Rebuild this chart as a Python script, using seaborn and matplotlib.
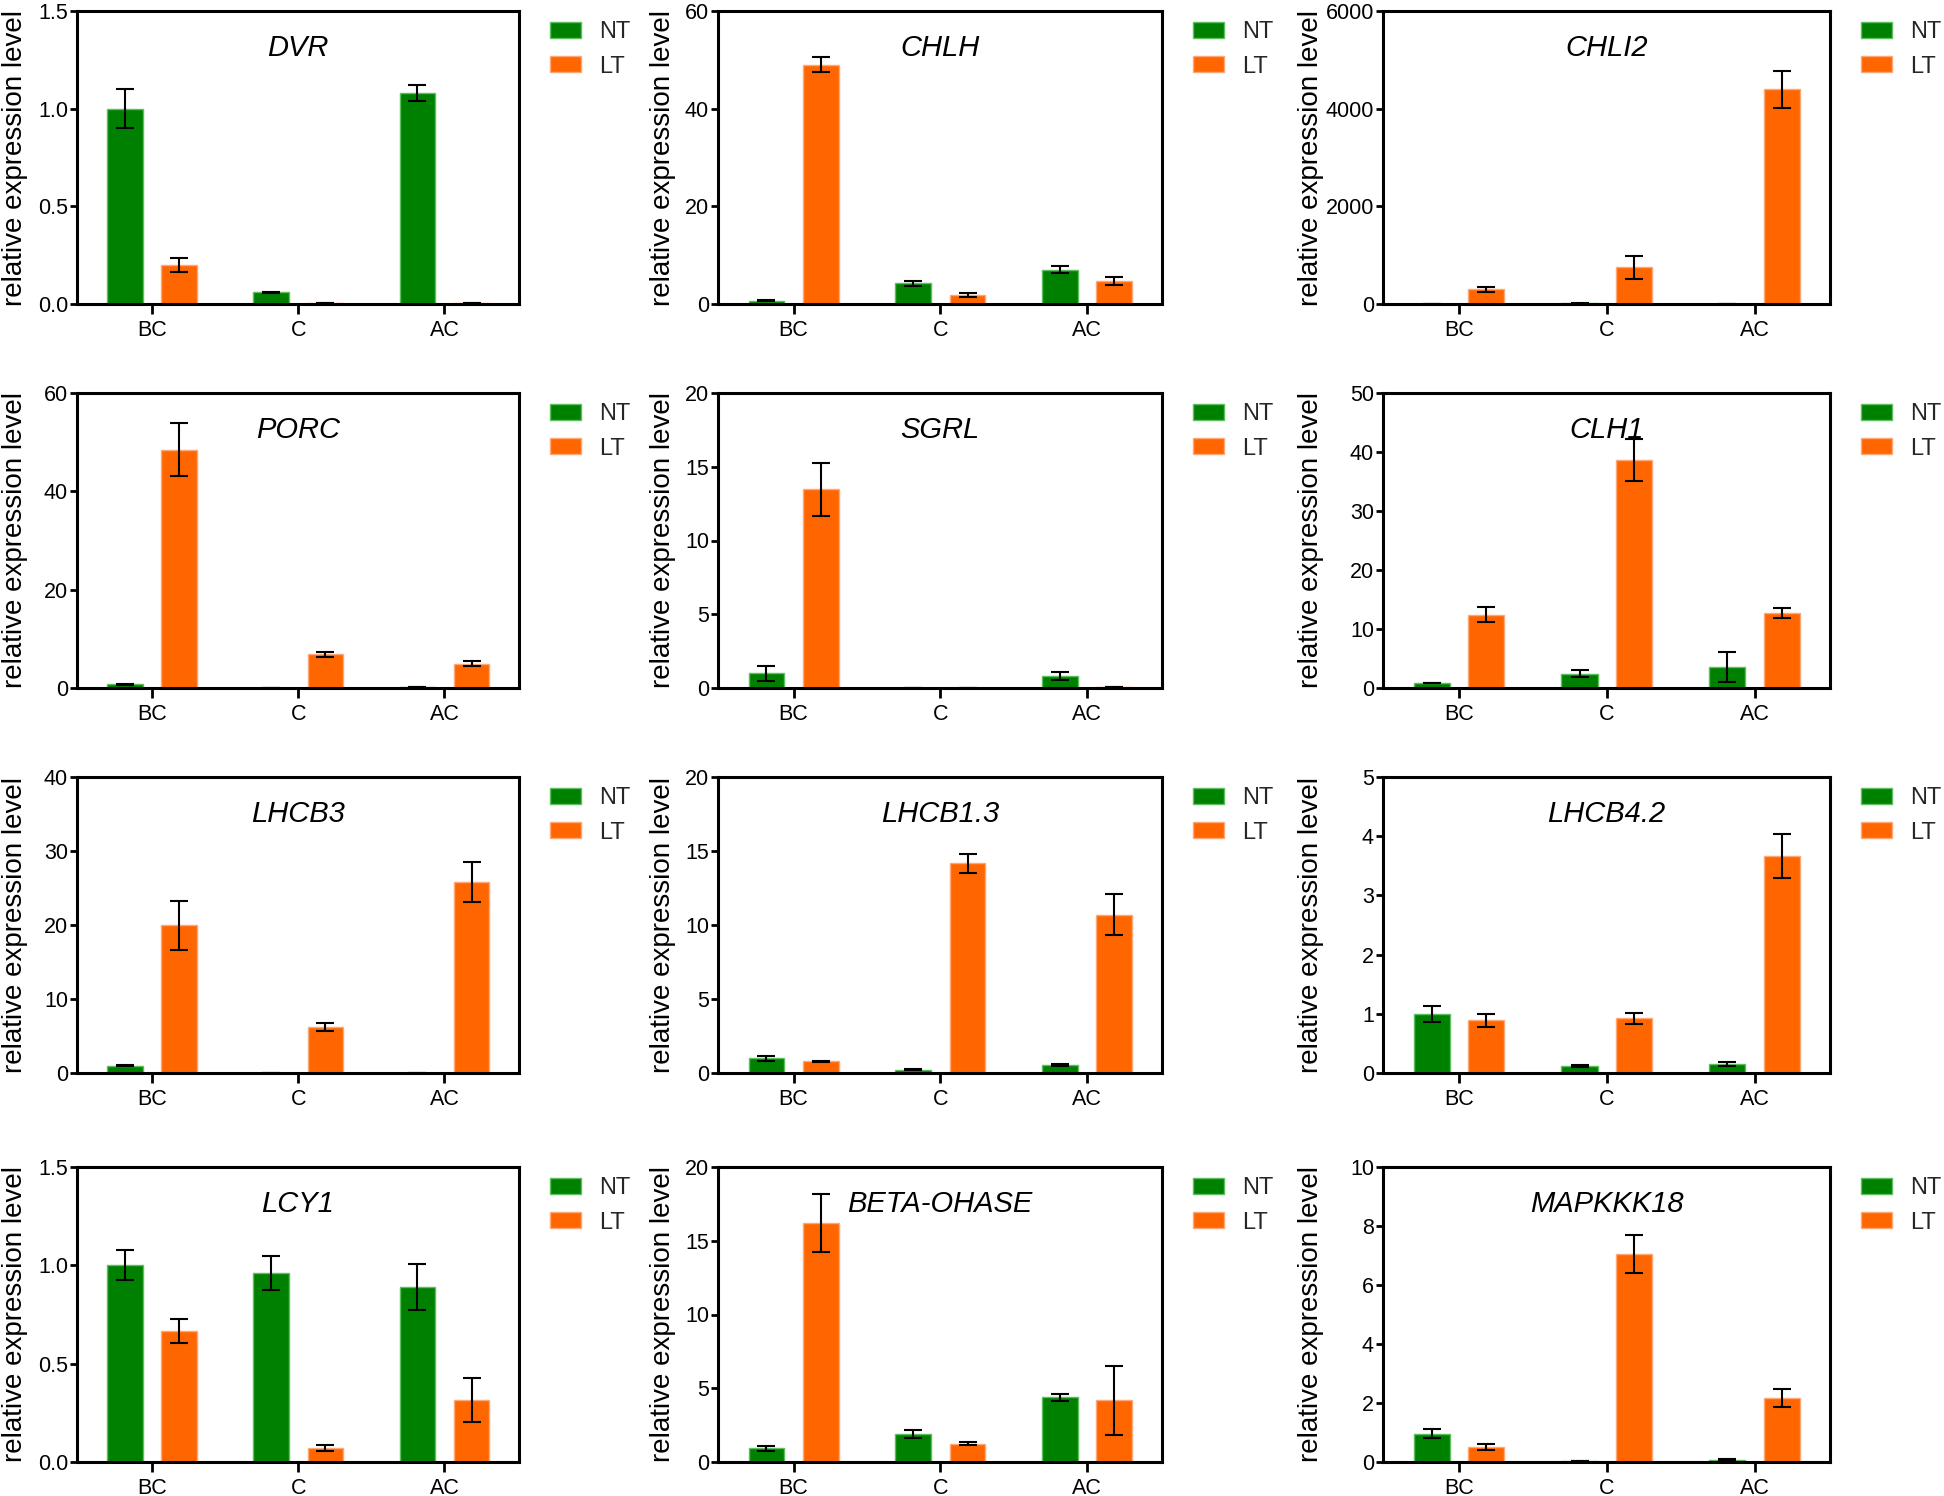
import numpy as np
import pandas as pd
import matplotlib
matplotlib.use("Agg")
import matplotlib.pyplot as plt
from matplotlib.patches import Patch
import seaborn as sns

# ---------------- data ----------------
stages = ["BC", "C", "AC"]
treatments = ["NT", "LT"]
genes = ["DVR", "CHLH", "CHLI2", "PORC", "SGRL", "CLH1",
         "LHCB3", "LHCB1.3", "LHCB4.2", "LCY1", "BETA-OHASE", "MAPKKK18"]
y_max = [1.5, 60, 6000, 60, 20, 50, 40, 20, 5, 1.5, 20, 10]
y_step = [0.5, 20, 2000, 20, 5, 10, 10, 5, 1, 0.5, 5, 2]

nt_mean = [[1.00, 0.06, 1.08],
           [0.7, 4.2, 7.05],
           [1, 20, 5],
           [0.75, 0.05, 0.2],
           [0.99, 0.0, 0.81],
           [0.84, 2.42, 3.55],
           [0.99, 0.02, 0.05],
           [0.99, 0.22, 0.52],
           [1.0, 0.113, 0.152],
           [1.0, 0.96, 0.89],
           [0.93, 1.9, 4.38],
           [0.96, 0.03, 0.08]]
nt_err = [[0.10, 0.003, 0.04],
          [0.1, 0.45, 0.78],
          [0, 10, 0],
          [0.1, 0.0, 0.05],
          [0.5, 0.0, 0.28],
          [0.05, 0.56, 2.48],
          [0.05, 0.0, 0.0],
          [0.16, 0.03, 0.06],
          [0.135, 0.015, 0.03],
          [0.076, 0.086, 0.117],
          [0.17, 0.24, 0.25],
          [0.15, 0.01, 0.02]]
lt_mean = [[0.20, 0.005, 0.005],
           [49.0, 1.83, 4.75],
           [299, 754, 4396],
           [48.5, 6.86, 4.96],
           [13.46, 0.0, 0.05],
           [12.39, 38.63, 12.73],
           [19.95, 6.26, 25.8],
           [0.79, 14.16, 10.7],
           [0.895, 0.923, 3.66],
           [0.666, 0.071, 0.315],
           [16.2, 1.24, 4.18],
           [0.51, 7.04, 2.18]]
lt_err = [[0.037, 0.0, 0.0],
          [1.5, 0.45, 0.88],
          [45, 238, 384],
          [5.4, 0.55, 0.5],
          [1.77, 0.0, 0.0],
          [1.27, 3.6, 0.85],
          [3.3, 0.52, 2.7],
          [0.03, 0.62, 1.37],
          [0.11, 0.093, 0.37],
          [0.06, 0.017, 0.114],
          [1.95, 0.12, 2.36],
          [0.11, 0.64, 0.3]]

colors = {"NT": "#008000", "LT": "#FF6600"}
edges = {"NT": "#5DBE5D", "LT": "#FFA877"}

# ---------------- layout ----------------
sns.set_theme(style="white")
plt.rcParams["font.family"] = ["Liberation Sans", "DejaVu Sans"]

W, H = 1944, 1496
fig = plt.figure(figsize=(W / 100, H / 100), dpi=100)

col_lr = [(77, 519), (718, 1162), (1383, 1830)]
row_tb = [(11, 304), (393, 688), (777, 1073), (1167, 1462)]
ylab_x = [-0.111, -0.095, -0.132]

for k, gene in enumerate(genes):
    r, c = divmod(k, 3)
    l, rr = col_lr[c]
    t, b = row_tb[r]
    ax = fig.add_axes([l / W, 1 - b / H, (rr - l) / W, (b - t) / H])

    df = pd.DataFrame({
        "stage": stages * 2,
        "treatment": ["NT"] * 3 + ["LT"] * 3,
        "value": nt_mean[k] + lt_mean[k],
    })
    sns.barplot(data=df, x="stage", y="value", hue="treatment",
                order=stages, hue_order=treatments, palette=colors,
                saturation=1, width=0.74, gap=0.34, errorbar=None,
                legend=False, linewidth=1.0, ax=ax)

    errs = {"NT": nt_err[k], "LT": lt_err[k]}
    for cont, tr in zip(ax.containers, treatments):
        for p, e in zip(cont.patches, errs[tr]):
            p.set_edgecolor(edges[tr])
            xc = p.get_x() + p.get_width() / 2
            ax.errorbar(xc, p.get_height(), yerr=e, fmt="none",
                        ecolor="black", elinewidth=1.5, capsize=6.5,
                        capthick=1.5, zorder=5)

    ax.set_xlim(-0.515, 2.51)
    ax.set_ylim(0, y_max[k])
    ticks = np.arange(0, y_max[k] + y_step[k] / 2, y_step[k])
    ax.set_yticks(ticks)
    if y_step[k] < 1:
        ax.set_yticklabels([f"{v:.1f}" for v in ticks])
    else:
        ax.set_yticklabels([f"{int(round(v))}" for v in ticks])

    for sp in ax.spines.values():
        sp.set_visible(True)
        sp.set_color("black")
        sp.set_linewidth(2.2)
    ax.tick_params(axis="y", which="major", direction="out", length=5,
                   width=2, pad=1.5, labelsize=15.5, left=True, colors="black")
    ax.tick_params(axis="x", which="major", direction="out", length=7,
                   width=2, pad=4.5, labelsize=15.5, bottom=True, colors="black")

    ax.set_xlabel("")
    ax.set_ylabel("relative expression level", fontsize=20, color="black")
    ax.yaxis.set_label_coords(ylab_x[c], 0.5)

    ax.text(0.5, 0.875, gene, transform=ax.transAxes, ha="center",
            va="center", fontsize=21, style="italic", color="black")

    handles = [Patch(facecolor=colors[tr], edgecolor=edges[tr], linewidth=1)
               for tr in treatments]
    ax.legend(handles, treatments, loc="upper left",
              bbox_to_anchor=(1 + 31 / (rr - l), 1 - 10.5 / (b - t)),
              frameon=False, fontsize=17, handlelength=1.31,
              handleheight=0.64, handletextpad=0.76, labelspacing=0.51,
              borderpad=0, borderaxespad=0)

fig.savefig("out.png", dpi=100)
